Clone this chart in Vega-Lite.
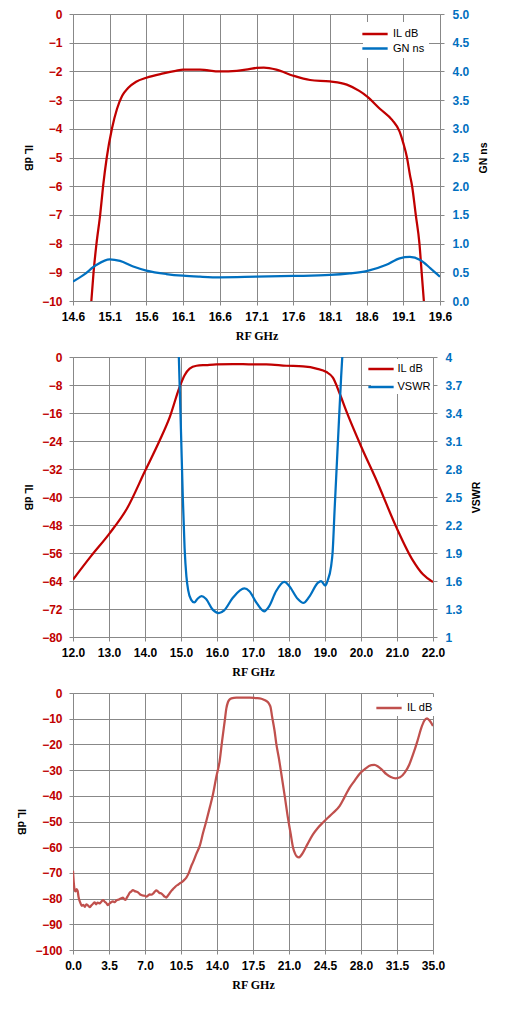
{
  "$schema": "https://vega.github.io/schema/vega-lite/v6.json",
  "padding": {"left": 15, "top": 8, "right": 5, "bottom": 5},
  "background": "white",
  "spacing": 10,
  "datasets": {
    "p1il": [
      {"f": 14.85, "v": -10}, {"f": 14.88, "v": -9}, {"f": 14.92, "v": -8}, {"f": 14.97, "v": -7},
      {"f": 15.01, "v": -6}, {"f": 15.06, "v": -5}, {"f": 15.13, "v": -4}, {"f": 15.2, "v": -3.3},
      {"f": 15.27, "v": -2.85}, {"f": 15.35, "v": -2.58}, {"f": 15.46, "v": -2.36}, {"f": 15.6, "v": -2.22},
      {"f": 15.83, "v": -2.07}, {"f": 16.0, "v": -1.98}, {"f": 16.1, "v": -1.94}, {"f": 16.33, "v": -1.94},
      {"f": 16.6, "v": -2.0}, {"f": 16.83, "v": -1.98}, {"f": 17.0, "v": -1.92}, {"f": 17.1, "v": -1.88},
      {"f": 17.2, "v": -1.87}, {"f": 17.37, "v": -1.94}, {"f": 17.6, "v": -2.15}, {"f": 17.83, "v": -2.3},
      {"f": 18.1, "v": -2.35}, {"f": 18.33, "v": -2.46}, {"f": 18.5, "v": -2.68}, {"f": 18.6, "v": -2.86},
      {"f": 18.78, "v": -3.3}, {"f": 18.95, "v": -3.7}, {"f": 19.05, "v": -4.1}, {"f": 19.1, "v": -4.5},
      {"f": 19.15, "v": -5}, {"f": 19.19, "v": -5.6}, {"f": 19.22, "v": -6}, {"f": 19.27, "v": -7},
      {"f": 19.32, "v": -8}, {"f": 19.35, "v": -9}, {"f": 19.38, "v": -10}
    ],
    "p1gn": [
      {"f": 14.6, "v": 0.337}, {"f": 14.74, "v": 0.45}, {"f": 14.92, "v": 0.63}, {"f": 15.1, "v": 0.727},
      {"f": 15.24, "v": 0.70}, {"f": 15.42, "v": 0.60}, {"f": 15.6, "v": 0.53}, {"f": 15.87, "v": 0.47},
      {"f": 16.1, "v": 0.44}, {"f": 16.33, "v": 0.424}, {"f": 16.6, "v": 0.413}, {"f": 17.1, "v": 0.424},
      {"f": 17.6, "v": 0.436}, {"f": 18.1, "v": 0.453}, {"f": 18.37, "v": 0.48}, {"f": 18.6, "v": 0.52},
      {"f": 18.87, "v": 0.63}, {"f": 19.05, "v": 0.744}, {"f": 19.19, "v": 0.767}, {"f": 19.33, "v": 0.715},
      {"f": 19.47, "v": 0.57}, {"f": 19.6, "v": 0.424}
    ],
    "p2il": [
      {"f": 12.0, "v": -63.6}, {"f": 12.5, "v": -56.9}, {"f": 13.0, "v": -50.6}, {"f": 13.5, "v": -43.3},
      {"f": 14.0, "v": -32.6}, {"f": 14.41, "v": -23.8}, {"f": 14.69, "v": -17.1}, {"f": 14.96, "v": -8.6},
      {"f": 15.1, "v": -5.2}, {"f": 15.24, "v": -3.3}, {"f": 15.43, "v": -2.5}, {"f": 15.7, "v": -2.3},
      {"f": 15.98, "v": -2.1}, {"f": 16.44, "v": -2.0}, {"f": 17.0, "v": -2.1}, {"f": 17.37, "v": -2.1},
      {"f": 17.93, "v": -2.5}, {"f": 18.39, "v": -2.7}, {"f": 18.76, "v": -3.3}, {"f": 19.04, "v": -4.3},
      {"f": 19.22, "v": -5.9}, {"f": 19.41, "v": -10.5}, {"f": 19.59, "v": -15.4}, {"f": 20.01, "v": -25.7},
      {"f": 20.43, "v": -35.2}, {"f": 20.98, "v": -48.6}, {"f": 21.44, "v": -58.1}, {"f": 21.72, "v": -62.1},
      {"f": 22.0, "v": -64.3}
    ],
    "p2vs": [
      {"f": 14.94, "v": 4.0}, {"f": 15.0, "v": 3.2}, {"f": 15.05, "v": 2.5}, {"f": 15.1, "v": 1.95},
      {"f": 15.15, "v": 1.65}, {"f": 15.2, "v": 1.5}, {"f": 15.28, "v": 1.40}, {"f": 15.37, "v": 1.37},
      {"f": 15.46, "v": 1.41}, {"f": 15.57, "v": 1.437}, {"f": 15.69, "v": 1.41}, {"f": 15.88, "v": 1.293},
      {"f": 16.05, "v": 1.257}, {"f": 16.2, "v": 1.286}, {"f": 16.44, "v": 1.42}, {"f": 16.76, "v": 1.52},
      {"f": 16.9, "v": 1.49}, {"f": 17.1, "v": 1.365}, {"f": 17.31, "v": 1.275}, {"f": 17.45, "v": 1.33},
      {"f": 17.64, "v": 1.49}, {"f": 17.87, "v": 1.59}, {"f": 18.0, "v": 1.55}, {"f": 18.24, "v": 1.41},
      {"f": 18.4, "v": 1.365}, {"f": 18.56, "v": 1.43}, {"f": 18.8, "v": 1.58}, {"f": 18.89, "v": 1.60},
      {"f": 19.01, "v": 1.55}, {"f": 19.07, "v": 1.60}, {"f": 19.17, "v": 1.76}, {"f": 19.21, "v": 1.9},
      {"f": 19.27, "v": 2.39}, {"f": 19.36, "v": 3.1}, {"f": 19.45, "v": 3.8}, {"f": 19.48, "v": 4.0}
    ],
    "p3il": [
      {"f": 0.0, "v": -69.2}, {"f": 0.08, "v": -74}, {"f": 0.15, "v": -76.5}, {"f": 0.25, "v": -77.2},
      {"f": 0.35, "v": -76.3}, {"f": 0.45, "v": -77}, {"f": 0.55, "v": -79.6}, {"f": 0.7, "v": -81.5},
      {"f": 0.85, "v": -82.8}, {"f": 1.0, "v": -82.4}, {"f": 1.15, "v": -83.2}, {"f": 1.3, "v": -82.2},
      {"f": 1.45, "v": -82.6}, {"f": 1.62, "v": -83.3}, {"f": 1.8, "v": -82.6}, {"f": 1.95, "v": -82},
      {"f": 2.1, "v": -81.5}, {"f": 2.25, "v": -82.2}, {"f": 2.4, "v": -81.6}, {"f": 2.6, "v": -81.9},
      {"f": 2.75, "v": -81.2}, {"f": 2.92, "v": -80.6}, {"f": 3.1, "v": -81.3}, {"f": 3.25, "v": -81.8},
      {"f": 3.4, "v": -82.5}, {"f": 3.55, "v": -81.9}, {"f": 3.7, "v": -81.4}, {"f": 3.89, "v": -81.1},
      {"f": 4.05, "v": -81.4}, {"f": 4.2, "v": -80.8}, {"f": 4.35, "v": -80.5}, {"f": 4.54, "v": -80.2},
      {"f": 4.7, "v": -79.9}, {"f": 4.86, "v": -79.6}, {"f": 5.0, "v": -80.3}, {"f": 5.12, "v": -80.5},
      {"f": 5.25, "v": -79.5}, {"f": 5.35, "v": -78.9}, {"f": 5.5, "v": -77.8}, {"f": 5.65, "v": -77.3},
      {"f": 5.83, "v": -76.7}, {"f": 6.0, "v": -77.1}, {"f": 6.15, "v": -77.3}, {"f": 6.32, "v": -77.6},
      {"f": 6.5, "v": -78.3}, {"f": 6.7, "v": -78.7}, {"f": 6.97, "v": -78.9}, {"f": 7.15, "v": -79.2},
      {"f": 7.3, "v": -78.8}, {"f": 7.45, "v": -78.4}, {"f": 7.62, "v": -78.5}, {"f": 7.8, "v": -78},
      {"f": 7.95, "v": -77.3}, {"f": 8.1, "v": -76.8}, {"f": 8.25, "v": -77.2}, {"f": 8.4, "v": -77.8},
      {"f": 8.59, "v": -78}, {"f": 8.75, "v": -78.6}, {"f": 8.9, "v": -79.2}, {"f": 9.07, "v": -79.6},
      {"f": 9.2, "v": -79}, {"f": 9.35, "v": -78.2}, {"f": 9.56, "v": -77}, {"f": 9.75, "v": -76.2},
      {"f": 9.9, "v": -75.6}, {"f": 10.05, "v": -75}, {"f": 10.2, "v": -74.6}, {"f": 10.4, "v": -74},
      {"f": 10.54, "v": -73.7}, {"f": 10.7, "v": -73.2}, {"f": 10.85, "v": -72.6}, {"f": 11.02, "v": -71.8},
      {"f": 11.3, "v": -69.6}, {"f": 11.5, "v": -67.3}, {"f": 11.67, "v": -65.8}, {"f": 12.0, "v": -62.5},
      {"f": 12.32, "v": -59.5}, {"f": 12.64, "v": -54.5}, {"f": 12.97, "v": -49.7}, {"f": 13.3, "v": -44.5},
      {"f": 13.61, "v": -39.4}, {"f": 13.94, "v": -32.5}, {"f": 14.26, "v": -26.4}, {"f": 14.5, "v": -18.5},
      {"f": 14.75, "v": -10.9}, {"f": 14.91, "v": -6}, {"f": 15.07, "v": -3.5}, {"f": 15.2, "v": -2.6},
      {"f": 15.4, "v": -2.1}, {"f": 15.88, "v": -1.8}, {"f": 16.53, "v": -1.8}, {"f": 17.18, "v": -1.8},
      {"f": 17.83, "v": -2.0}, {"f": 18.15, "v": -2.1}, {"f": 18.5, "v": -2.5}, {"f": 18.8, "v": -3.1},
      {"f": 18.96, "v": -3.6}, {"f": 19.1, "v": -4.5}, {"f": 19.22, "v": -5.7}, {"f": 19.35, "v": -9},
      {"f": 19.6, "v": -14.8}, {"f": 19.77, "v": -19.9}, {"f": 20.0, "v": -25}, {"f": 20.26, "v": -31.6},
      {"f": 20.6, "v": -40.5}, {"f": 20.9, "v": -48.7}, {"f": 21.15, "v": -54.5}, {"f": 21.39, "v": -60.1},
      {"f": 21.6, "v": -62.6}, {"f": 21.75, "v": -63.6}, {"f": 21.97, "v": -64}, {"f": 22.15, "v": -63.3},
      {"f": 22.36, "v": -62.1}, {"f": 22.8, "v": -58.8}, {"f": 23.33, "v": -55}, {"f": 23.8, "v": -52.5},
      {"f": 24.3, "v": -50.4}, {"f": 24.63, "v": -49.1}, {"f": 25.3, "v": -46.6}, {"f": 25.93, "v": -43.9},
      {"f": 26.4, "v": -40.5}, {"f": 26.9, "v": -36.8}, {"f": 27.4, "v": -34}, {"f": 27.87, "v": -31.4},
      {"f": 28.4, "v": -29.5}, {"f": 29.0, "v": -28.1}, {"f": 29.3, "v": -28}, {"f": 29.65, "v": -28.6},
      {"f": 30.0, "v": -29.7}, {"f": 30.47, "v": -31.6}, {"f": 30.9, "v": -32.7}, {"f": 31.37, "v": -33.2},
      {"f": 31.8, "v": -32.8}, {"f": 32.25, "v": -31}, {"f": 32.7, "v": -27.8}, {"f": 33.06, "v": -23.9},
      {"f": 33.5, "v": -18.5}, {"f": 33.87, "v": -13.5}, {"f": 34.15, "v": -10.8}, {"f": 34.42, "v": -9.9},
      {"f": 34.7, "v": -10.9}, {"f": 35.0, "v": -12.8}
    ]
  },
  "resolve": {"scale": {"color": "independent"}, "legend": {"color": "independent"}},
  "vconcat": [
    {
      "width": 367,
      "height": 287,
      "resolve": {"scale": {"y": "independent"}},
      "layer": [
        {
          "data": {"name": "p1il"},
          "mark": {"type": "line", "strokeWidth": 2.25, "interpolate": "monotone", "clip": true},
          "encoding": {
            "x": {"field": "f", "type": "quantitative", "title": "RF GHz",
                  "scale": {"domain": [14.6, 19.6], "nice": false, "zero": false},
                  "axis": {"values": [14.6, 15.1, 15.6, 16.1, 16.6, 17.1, 17.6, 18.1, 18.6, 19.1, 19.6], "format": ".1f"}},
            "y": {"field": "v", "type": "quantitative", "title": "IL dB",
                  "scale": {"domain": [-10, 0], "nice": false},
                  "axis": {"values": [-10, -9, -8, -7, -6, -5, -4, -3, -2, -1, 0], "format": "d", "labelColor": "#C00000", "titleAngle": 90, "titleBaseline": "top", "titlePadding": 9}},
            "color": {"datum": "IL dB", "type": "nominal",
                      "scale": {"domain": ["IL dB", "GN ns"], "range": ["#C00000", "#0070C0"]},
                      "legend": {"title": null, "orient": "none", "legendX": 290, "legendY": 8, "padding": 4, "rowPadding": 1.5, "labelOffset": 10}}
          }
        },
        {
          "data": {"name": "p1gn"},
          "mark": {"type": "line", "strokeWidth": 2.25, "interpolate": "monotone", "clip": true},
          "encoding": {
            "x": {"field": "f", "type": "quantitative", "title": "RF GHz",
                  "scale": {"domain": [14.6, 19.6], "nice": false, "zero": false},
                  "axis": {"values": [14.6, 15.1, 15.6, 16.1, 16.6, 17.1, 17.6, 18.1, 18.6, 19.1, 19.6], "format": ".1f"}},
            "y": {"field": "v", "type": "quantitative", "title": "GN ns",
                  "scale": {"domain": [0, 5], "nice": false},
                  "axis": {"orient": "right", "grid": false, "values": [0, 0.5, 1, 1.5, 2, 2.5, 3, 3.5, 4, 4.5, 5], "format": ".1f", "labelColor": "#0070C0", "titleAngle": 270, "titleBaseline": "top", "titlePadding": 10, "labelPadding": 8}},
            "color": {"datum": "GN ns", "type": "nominal"}
          }
        }
      ]
    },
    {
      "width": 360,
      "height": 280,
      "resolve": {"scale": {"y": "independent"}},
      "layer": [
        {
          "data": {"name": "p2il"},
          "mark": {"type": "line", "strokeWidth": 2.25, "interpolate": "monotone", "clip": true},
          "encoding": {
            "x": {"field": "f", "type": "quantitative", "title": "RF GHz",
                  "scale": {"domain": [12, 22], "nice": false, "zero": false},
                  "axis": {"values": [12, 13, 14, 15, 16, 17, 18, 19, 20, 21, 22], "format": ".1f"}},
            "y": {"field": "v", "type": "quantitative", "title": "IL dB",
                  "scale": {"domain": [-80, 0], "nice": false},
                  "axis": {"values": [-80, -72, -64, -56, -48, -40, -32, -24, -16, -8, 0], "format": "d", "labelColor": "#C00000", "titleAngle": 90, "titleBaseline": "top", "titlePadding": 9}},
            "color": {"datum": "IL dB", "type": "nominal",
                      "scale": {"domain": ["IL dB", "VSWR"], "range": ["#C00000", "#0070C0"]},
                      "legend": {"title": null, "orient": "none", "legendX": 298, "legendY": 2, "padding": 2, "rowPadding": 5, "labelOffset": 8.5}}
          }
        },
        {
          "data": {"name": "p2vs"},
          "mark": {"type": "line", "strokeWidth": 2.25, "interpolate": "monotone", "clip": true},
          "encoding": {
            "x": {"field": "f", "type": "quantitative", "title": "RF GHz",
                  "scale": {"domain": [12, 22], "nice": false, "zero": false},
                  "axis": {"values": [12, 13, 14, 15, 16, 17, 18, 19, 20, 21, 22], "format": ".1f"}},
            "y": {"field": "v", "type": "quantitative", "title": "VSWR",
                  "scale": {"domain": [1, 4], "nice": false, "zero": false},
                  "axis": {"orient": "right", "grid": false, "values": [1, 1.3, 1.6, 1.9, 2.2, 2.5, 2.8, 3.1, 3.4, 3.7, 4], "format": ".2~f", "labelColor": "#0070C0", "titleAngle": 270, "titleBaseline": "top", "titlePadding": 10, "labelPadding": 8}},
            "color": {"datum": "VSWR", "type": "nominal"}
          }
        }
      ]
    },
    {
      "width": 360,
      "height": 257,
      "layer": [
        {
          "data": {"name": "p3il"},
          "mark": {"type": "line", "strokeWidth": 2.25, "interpolate": "monotone", "clip": true},
          "encoding": {
            "x": {"field": "f", "type": "quantitative", "title": "RF GHz",
                  "scale": {"domain": [0, 35], "nice": false},
                  "axis": {"values": [0, 3.5, 7, 10.5, 14, 17.5, 21, 24.5, 28, 31.5, 35], "format": ".1f"}},
            "y": {"field": "v", "type": "quantitative", "title": "IL dB",
                  "scale": {"domain": [-100, 0], "nice": false},
                  "axis": {"values": [-100, -90, -80, -70, -60, -50, -40, -30, -20, -10, 0], "format": "d", "labelColor": "#C00000", "titleAngle": 90, "titleBaseline": "top", "titlePadding": 9}},
            "color": {"datum": "IL dB", "type": "nominal",
                      "scale": {"domain": ["IL dB"], "range": ["#C0504D"]},
                      "legend": {"title": null, "orient": "none", "legendX": 305, "legendY": 4, "padding": 3, "labelOffset": 10}}
          }
        }
      ]
    }
  ],
  "config": {
    "view": {"stroke": null},
    "axis": {
      "gridColor": "#888888", "gridWidth": 1, "gridOpacity": 1,
      "domainColor": "#888888", "domainWidth": 1,
      "tickColor": "#888888", "tickSize": 4,
      "labelFont": "Liberation Sans", "labelFontWeight": "bold", "labelFontSize": 12, "labelColor": "black",
      "labelPadding": 6, "labelOverlap": false, "labelFlush": false,
      "titleFont": "Liberation Sans", "titleFontWeight": "bold", "titleFontSize": 10.5, "titleColor": "black",
      "titlePadding": 8
    },
    "axisX": {"titleFont": "Liberation Serif", "titleFontSize": 12, "titlePadding": 8},
    "axisY": {"labelPadding": 7},
    "legend": {
      "symbolType": "M-2,0H2", "symbolStrokeWidth": 2.5, "symbolSize": 160,
      "labelFont": "Liberation Sans", "labelFontSize": 11, "labelFontWeight": "normal", "labelColor": "black",
      "fillColor": "white", "strokeColor": null
    }
  }
}
